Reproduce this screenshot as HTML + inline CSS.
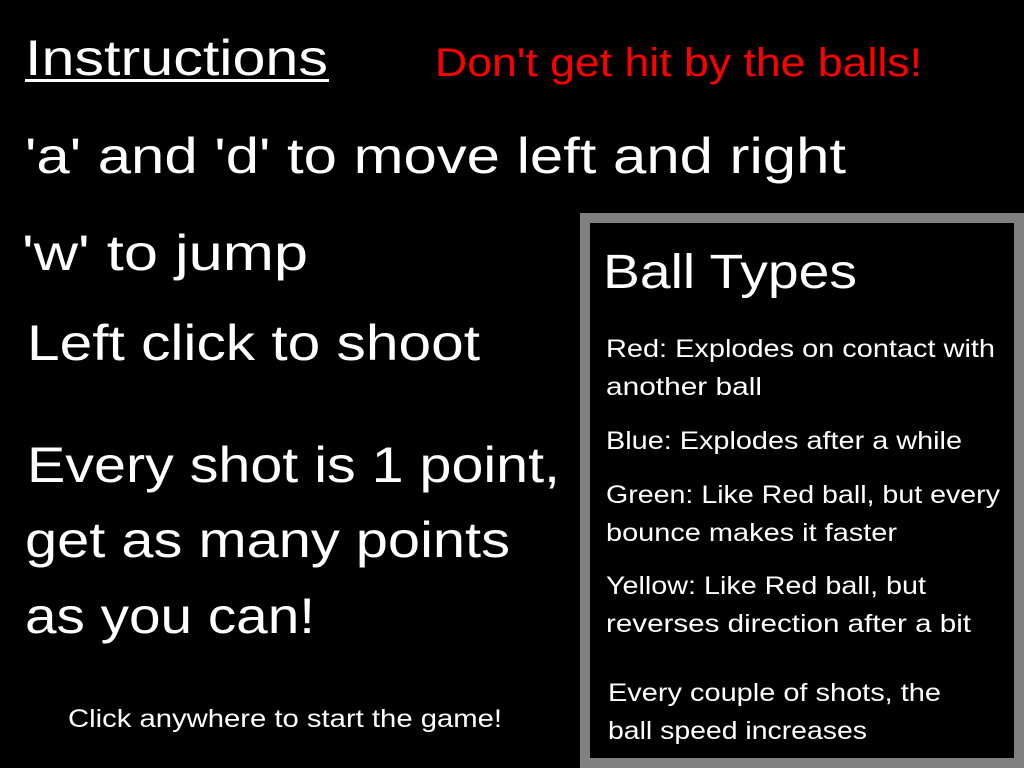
<!DOCTYPE html>
<html><head><meta charset="utf-8"><style>
html,body{margin:0;padding:0;background:#000;width:1024px;height:768px;overflow:hidden}
svg{display:block}
text{font-family:"Liberation Sans","DejaVu Sans",sans-serif;fill:#fff}
</style></head><body>
<svg width="1024" height="768" viewBox="0 0 1024 768">
<rect x="0" y="0" width="1024" height="768" fill="#000"/>
<text x="25" y="75" font-size="50" textLength="303" lengthAdjust="spacingAndGlyphs">Instructions</text>
<rect x="25" y="79" width="304" height="3" fill="#fff"/>
<text x="435" y="76" font-size="40" textLength="487" lengthAdjust="spacingAndGlyphs" style="fill:#f00">Don't get hit by the balls!</text>
<text x="25" y="173" font-size="50" textLength="821" lengthAdjust="spacingAndGlyphs">'a' and 'd' to move left and right</text>
<text x="22" y="270" font-size="50" textLength="286" lengthAdjust="spacingAndGlyphs">'w' to jump</text>
<text x="27" y="360" font-size="50" textLength="453" lengthAdjust="spacingAndGlyphs">Left click to shoot</text>
<text x="27" y="482" font-size="50" textLength="533" lengthAdjust="spacingAndGlyphs">Every shot is 1 point,</text>
<text x="25" y="557" font-size="50" textLength="485" lengthAdjust="spacingAndGlyphs">get as many points</text>
<text x="25" y="633" font-size="50" textLength="290" lengthAdjust="spacingAndGlyphs">as you can!</text>
<text x="68" y="727" font-size="25" textLength="434" lengthAdjust="spacingAndGlyphs">Click anywhere to start the game!</text>
<rect x="585" y="218" width="434" height="545" fill="#000" stroke="#808080" stroke-width="10"/>
<text x="603" y="288" font-size="48" textLength="254" lengthAdjust="spacingAndGlyphs">Ball Types</text>
<text x="606" y="357" font-size="25" textLength="389" lengthAdjust="spacingAndGlyphs">Red: Explodes on contact with</text>
<text x="606" y="395" font-size="25" textLength="156" lengthAdjust="spacingAndGlyphs">another ball</text>
<text x="606" y="449" font-size="25" textLength="356" lengthAdjust="spacingAndGlyphs">Blue: Explodes after a while</text>
<text x="606" y="503" font-size="25" textLength="394" lengthAdjust="spacingAndGlyphs">Green: Like Red ball, but every</text>
<text x="606" y="541" font-size="25" textLength="291" lengthAdjust="spacingAndGlyphs">bounce makes it faster</text>
<text x="606" y="594" font-size="25" textLength="320" lengthAdjust="spacingAndGlyphs">Yellow: Like Red ball, but</text>
<text x="606" y="632" font-size="25" textLength="365" lengthAdjust="spacingAndGlyphs">reverses direction after a bit</text>
<text x="608" y="701" font-size="25" textLength="333" lengthAdjust="spacingAndGlyphs">Every couple of shots, the</text>
<text x="608" y="739" font-size="25" textLength="259" lengthAdjust="spacingAndGlyphs">ball speed increases</text>
</svg>
</body></html>
